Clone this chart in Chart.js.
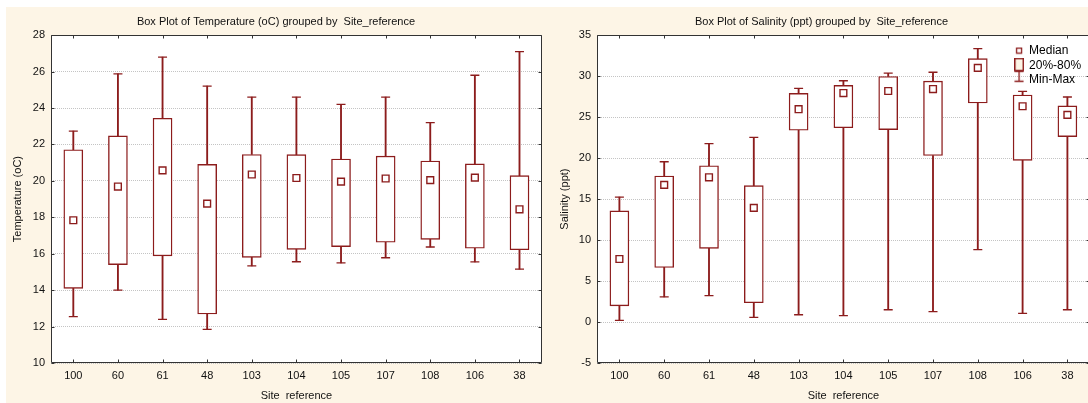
<!DOCTYPE html>
<html><head><meta charset="utf-8">
<script src="https://cdn.jsdelivr.net/npm/chart.js@4.4.1/dist/chart.umd.min.js"></script>
<style>
html,body{margin:0;padding:0;width:1088px;height:403px;overflow:hidden;background:#fff;}
#bg{position:absolute;left:6px;top:7px;width:1082px;height:396px;background:#fdf5e6;}
#c1{position:absolute;left:6px;top:7px;}
#c2{position:absolute;left:549px;top:7px;}
</style></head><body>
<div id="bg"></div>
<canvas id="c1" width="542" height="396" style="width:542px;height:396px"></canvas>
<canvas id="c2" width="547" height="396" style="width:547px;height:396px"></canvas>
<script>
// ---- data ----
const sites = ['100','60','61','48','103','104','105','107','108','106','38'];

const tempMin    = [12.55, 14.0, 12.4, 11.85, 15.33, 15.56, 15.5, 15.78, 16.37, 15.55, 15.15];
const tempQ20    = [14.1, 15.4, 15.88, 12.69, 15.8, 16.24, 16.39, 16.63, 16.79, 16.3, 16.22];
const tempMedian = [17.84, 19.69, 20.58, 18.75, 20.35, 20.16, 19.96, 20.13, 20.04, 20.18, 18.44];
const tempQ80    = [21.71, 22.47, 23.44, 20.91, 21.45, 21.44, 21.2, 21.36, 21.09, 20.93, 20.29];
const tempMax    = [22.73, 25.88, 26.8, 25.2, 24.6, 24.6, 24.2, 24.6, 23.2, 25.8, 27.1];

const salMin    = [0.2, 3.06, 3.22, 0.57, 0.89, 0.77, 1.5, 1.26, 8.83, 1.05, 1.5];
const salQ20    = [1.98, 6.66, 8.99, 2.35, 23.4, 23.71, 23.47, 20.32, 26.73, 19.72, 22.62];
const salMedian = [7.69, 16.73, 17.66, 13.93, 25.97, 27.94, 28.19, 28.43, 31.01, 26.33, 25.28];
const salQ80    = [13.56, 17.82, 19.07, 16.65, 27.9, 28.87, 29.96, 29.4, 32.14, 27.7, 26.37];
const salMax    = [15.24, 19.56, 21.77, 22.54, 28.51, 29.44, 30.36, 30.48, 33.35, 28.15, 27.46];

const tempTicks = [10, 12, 14, 16, 18, 20, 22, 24, 26, 28];
const salTicks  = [-5, 0, 5, 10, 15, 20, 25, 30, 35];

const legendLabels = ['Median', '20%-80%', 'Min-Max'];

// ---- style ----
const RED = '#8c1c1c';
const FONT = "'Liberation Sans', Arial, sans-serif";
const TXT = '#111';

function icon(w, h, draw) {
  const c = document.createElement('canvas');
  c.width = w; c.height = h;
  const g = c.getContext('2d');
  draw(g);
  return c;
}
const iconMedian = icon(8, 8, g => {
  g.fillStyle = '#fff'; g.fillRect(1.5, 1.5, 5, 5);
  g.strokeStyle = RED; g.lineWidth = 1.3; g.strokeRect(1.5, 1.5, 5, 5);
});
const iconBox = icon(10, 15, g => {
  g.fillStyle = '#fdf5e6'; g.fillRect(0.75, 0.75, 8.5, 12);
  g.strokeStyle = RED; g.lineWidth = 1.5; g.strokeRect(0.75, 0.75, 8.5, 12);
});
const iconWhisker = icon(10, 20, g => {
  g.strokeStyle = RED; g.lineWidth = 1.3;
  g.beginPath();
  g.moveTo(5, 1); g.lineTo(5, 12);
  g.moveTo(0.5, 1.5); g.lineTo(9.5, 1.5);
  g.moveTo(0.5, 11.5); g.lineTo(9.5, 11.5);
  g.stroke();
});
const legendIcons = [iconMedian, iconBox, iconWhisker];

const framePlugin = {
  id: 'frame',
  beforeDraw(chart) {
    const {ctx, chartArea: a} = chart;
    ctx.save();
    ctx.fillStyle = '#fff';
    ctx.fillRect(a.left, a.top, a.right - a.left, a.bottom - a.top);
    ctx.restore();
  },
  afterDatasetsDraw(chart) {
    const {ctx, chartArea: a, scales} = chart;
    const L = Math.round(a.left) + 0.5, R = Math.round(a.right) - 0.5;
    const T = Math.round(a.top) + 0.5, B = Math.round(a.bottom) - 0.5;
    ctx.save();
    ctx.strokeStyle = '#333';
    ctx.lineWidth = 1;
    ctx.beginPath();
    ctx.rect(L, T, R - L, B - T);
    scales.x.ticks.forEach((t, i) => {
      const px = Math.round(scales.x.getPixelForTick(i)) + 0.5;
      ctx.moveTo(px, B); ctx.lineTo(px, B - 3);
      ctx.moveTo(px, T); ctx.lineTo(px, T + 3);
    });
    scales.y.ticks.forEach((t, i) => {
      const py = Math.round(scales.y.getPixelForTick(i)) + 0.5;
      ctx.moveTo(L, py); ctx.lineTo(L + 3, py);
      ctx.moveTo(R, py); ctx.lineTo(R - 3, py);
    });
    ctx.stroke();
    ctx.restore();
  },
  afterLayout(chart) {
    const lg = chart.legend;
    if (!lg || !lg.options.display) return;
    lg.left = 463.5; lg.top = 35;
    lg.right = lg.left + lg.width;
    lg.height = 60; lg.bottom = lg.top + 60;
  }
};

function makeChart(id, d) {
  const lowW = sites.map((s, i) => [d.min[i], d.q20[i]]);
  const upW = sites.map((s, i) => [d.q80[i], d.max[i]]);
  const box = sites.map((s, i) => [d.q20[i], d.q80[i]]);
  return new Chart(document.getElementById(id), {
    type: 'bar',
    data: {
      labels: sites,
      datasets: [
        {type: 'bar', label: 'lowW', data: lowW, backgroundColor: RED, borderWidth: 0, barThickness: 1.2, grouped: false, order: 5},
        {type: 'bar', label: 'upW', data: upW, backgroundColor: RED, borderWidth: 0, barThickness: 1.2, grouped: false, order: 5},
        {type: 'bar', label: 'box', data: box, backgroundColor: '#fff', borderColor: RED, borderWidth: 1.4, borderSkipped: false, barThickness: 19, grouped: false, order: 4},
        {type: 'line', label: 'maxCap', data: d.max, showLine: false, pointStyle: 'line', pointRadius: 4.5, pointBorderColor: RED, pointBorderWidth: 1.3, order: 3},
        {type: 'line', label: 'minCap', data: d.min, showLine: false, pointStyle: 'line', pointRadius: 4.5, pointBorderColor: RED, pointBorderWidth: 1.3, order: 3},
        {type: 'line', label: 'median', data: d.median, showLine: false, pointStyle: 'rect', pointRadius: 4.8, pointBackgroundColor: '#fff', pointBorderColor: RED, pointBorderWidth: 1.4, order: 1}
      ]
    },
    options: {
      responsive: false,
      animation: false,
      events: [],
      layout: {padding: {left: 0, right: 2, top: 0, bottom: 0}},
      plugins: {
        tooltip: {enabled: false},
        title: {display: true, text: d.title, color: TXT, font: {family: FONT, size: 11, weight: 'normal'}, padding: {top: 8, bottom: 7}},
        legend: d.legend ? {
          display: true, position: 'chartArea', align: 'start',
          labels: {
            usePointStyle: true, pointStyleWidth: 8, boxHeight: 12, padding: 2.6,
            color: TXT, font: {family: FONT, size: 12},
            generateLabels: () => legendLabels.map((t, i) => ({
              text: t, pointStyle: legendIcons[i], fillStyle: '#fff', strokeStyle: RED, lineWidth: 0, hidden: false, datasetIndex: i
            }))
          }
        } : {display: false}
      },
      scales: {
        x: {
          type: 'category', offset: true,
          grid: {display: false, drawTicks: false},
          border: {display: false},
          ticks: {color: TXT, font: {family: FONT, size: 11}, padding: 6, autoSkip: false, maxRotation: 0},
          title: {display: true, text: 'Site  reference', color: TXT, font: {family: FONT, size: 11}, padding: {top: 0, bottom: 0}},
          afterFit: s => { s.height = 40; }
        },
        y: {
          min: d.ticks[0], max: d.ticks[d.ticks.length - 1],
          grid: {color: '#c4c4c4', lineWidth: 1, drawTicks: false},
          border: {display: false, dash: [1, 1]},
          ticks: {color: TXT, font: {family: FONT, size: 11}, padding: 6},
          afterBuildTicks: s => { s.ticks = d.ticks.map(v => ({value: v})); },
          title: {display: true, text: d.yTitle, color: TXT, font: {family: FONT, size: 11}, padding: {top: d.yTitlePad, bottom: 0}},
          afterFit: s => { s.width = d.yWidth; }
        }
      }
    },
    plugins: [framePlugin]
  });
}

makeChart('c1', {
  min: tempMin, q20: tempQ20, median: tempMedian, q80: tempQ80, max: tempMax,
  ticks: tempTicks, title: 'Box Plot of Temperature (oC) grouped by  Site_reference',
  yTitle: 'Temperature (oC)', yWidth: 45, yTitlePad: 5.4, legend: false
});
makeChart('c2', {
  min: salMin, q20: salQ20, median: salMedian, q80: salQ80, max: salMax,
  ticks: salTicks, title: 'Box Plot of Salinity (ppt) grouped by  Site_reference',
  yTitle: 'Salinity (ppt)', yWidth: 48, yTitlePad: 9.4, legend: true
});
</script>
</body></html>
